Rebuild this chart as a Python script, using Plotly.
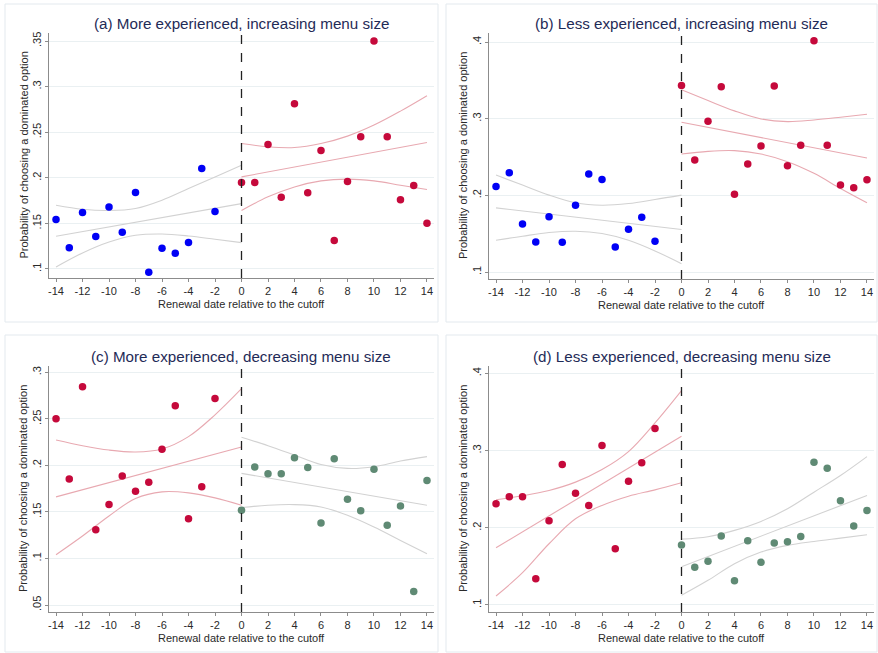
import plotly.graph_objects as go

# ---------------- data ----------------
x_pre = list(range(-14, -1))          # -14 ... -2
x_post = list(range(0, 15))           # 0 ... 14
x_fit_pre = [-14, -12, -10, -8, -6, -4, -2, 0]
x_fit_post = [0, 2, 4, 6, 8, 10, 12, 14]
x_line_pre = [-14, 0]
x_line_post = [0, 14]
x_ticks = [-14, -12, -10, -8, -6, -4, -2, 0, 2, 4, 6, 8, 10, 12, 14]
x_ticktext = ["-14", "-12", "-10", "-8", "-6", "-4", "-2", "0", "2", "4", "6", "8", "10", "12", "14"]

titles = ["(a) More experienced, increasing menu size",
          "(b) Less experienced, increasing menu size",
          "(c) More experienced, decreasing menu size",
          "(d) Less experienced, decreasing menu size"]
x_title = "Renewal date relative to the cutoff"
y_title = "Probability of choosing a dominated option"

# Panel (a)
a_pre = [0.1542, 0.1234, 0.1619, 0.1355, 0.1681, 0.1403, 0.1838, 0.0963, 0.1227, 0.1172, 0.1289, 0.2102, 0.1630]
a_post = [0.1948, 0.1948, 0.2365, 0.1787, 0.2812, 0.1835, 0.2299, 0.1311, 0.1959, 0.2449, 0.3500, 0.2449, 0.1758, 0.1915, 0.1501]
a_pre_fit = [0.1359, 0.1717]
a_pre_hi = [0.1699, 0.1655, 0.1641, 0.1663, 0.1754, 0.1882, 0.2010, 0.2138]
a_pre_lo = [0.1022, 0.1176, 0.1296, 0.1370, 0.1384, 0.1362, 0.1326, 0.1289]
a_post_fit = [0.2010, 0.2387]
a_post_hi = [0.2376, 0.2340, 0.2332, 0.2376, 0.2457, 0.2578, 0.2731, 0.2900]
a_post_lo = [0.1641, 0.1791, 0.1900, 0.1966, 0.1985, 0.1966, 0.1919, 0.1871]
a_yticks = [0.1, 0.15, 0.2, 0.25, 0.3, 0.35]
a_yticktext = [".1", ".15", ".2", ".25", ".3", ".35"]

# Panel (b)
b_pre = [0.2116, 0.2295, 0.1628, 0.1393, 0.1720, 0.1388, 0.1872, 0.2278, 0.2208, 0.1327, 0.1558, 0.1715, 0.1401]
b_post = [0.3433, 0.2461, 0.2967, 0.3416, 0.2016, 0.2409, 0.2644, 0.3425, 0.2387, 0.2653, 0.4018, 0.2653, 0.2134, 0.2099, 0.2204]
b_pre_fit = [0.1837, 0.1554]
b_pre_hi = [0.2265, 0.2134, 0.2003, 0.1903, 0.1872, 0.1894, 0.1946, 0.2003]
b_pre_lo = [0.1414, 0.1467, 0.1515, 0.1532, 0.1502, 0.1414, 0.1275, 0.1109]
b_post_fit = [0.2954, 0.2487]
b_post_hi = [0.3377, 0.3237, 0.3102, 0.2997, 0.2962, 0.2984, 0.3019, 0.3058]
b_post_lo = [0.2539, 0.2574, 0.2583, 0.2539, 0.2439, 0.2287, 0.2090, 0.1903]
b_yticks = [0.1, 0.2, 0.3, 0.4]
b_yticktext = [".1", ".2", ".3", ".4"]

# Panel (c)
c_pre = [0.2500, 0.1853, 0.2845, 0.1309, 0.1579, 0.1885, 0.1723, 0.1820, 0.2173, 0.2640, 0.1428, 0.1770, 0.2719]
c_post = [0.1518, 0.1982, 0.1910, 0.1910, 0.2083, 0.1978, 0.1381, 0.2072, 0.1637, 0.1514, 0.1960, 0.1356, 0.1565, 0.0644, 0.1838]
c_pre_fit = [0.1662, 0.2198]
c_pre_hi = [0.2273, 0.2212, 0.2165, 0.2144, 0.2176, 0.2309, 0.2543, 0.2824]
c_pre_lo = [0.1040, 0.1241, 0.1457, 0.1644, 0.1716, 0.1705, 0.1651, 0.1572]
c_post_fit = [0.1914, 0.1572]
c_post_hi = [0.2302, 0.2212, 0.2112, 0.2010, 0.1968, 0.1986, 0.2047, 0.2094]
c_post_lo = [0.1547, 0.1572, 0.1579, 0.1554, 0.1464, 0.1338, 0.1194, 0.1050]
c_yticks = [0.05, 0.1, 0.15, 0.2, 0.25, 0.3]
c_yticktext = [".05", ".1", ".15", ".2", ".25", ".3"]

# Panel (d)
d_pre = [0.2310, 0.2401, 0.2401, 0.1341, 0.2091, 0.2819, 0.2448, 0.2289, 0.3065, 0.1728, 0.2603, 0.2841, 0.3284]
d_post = [0.1776, 0.1487, 0.1565, 0.1892, 0.1315, 0.1832, 0.1552, 0.1802, 0.1819, 0.1888, 0.2849, 0.2772, 0.2349, 0.2022, 0.2224]
d_pre_fit = [0.1741, 0.3185]
d_pre_hi = [0.2362, 0.2414, 0.2483, 0.2591, 0.2754, 0.2987, 0.3358, 0.3776]
d_pre_lo = [0.1116, 0.1418, 0.1793, 0.2116, 0.2289, 0.2409, 0.2491, 0.2582]
d_post_fit = [0.1496, 0.2418]
d_post_hi = [0.1853, 0.1884, 0.1966, 0.2082, 0.2246, 0.2461, 0.2677, 0.2922]
d_post_lo = [0.1125, 0.1319, 0.1534, 0.1685, 0.1772, 0.1823, 0.1866, 0.1909]
d_yticks = [0.1, 0.2, 0.3, 0.4]
d_yticktext = [".1", ".2", ".3", ".4"]

# ---------------- styling ----------------
BLUE = "#0000f5"
RED = "#c5093b"
GREEN = "#5f8a74"
PINK_LINE = "#e8a9b1"
GRAY_LINE = "#d2d2d2"
TITLE_COLOR = "#1f2b57"
TEXT_COLOR = "#2a2a2a"
AXIS_COLOR = "#8c8c8c"
GRID_COLOR = "#eaf0f2"
FONT = "Liberation Sans, Arial, sans-serif"
W, H = 878, 653

panels = [
    dict(pre=a_pre, post=a_post, pre_fit=a_pre_fit, pre_hi=a_pre_hi, pre_lo=a_pre_lo,
         post_fit=a_post_fit, post_hi=a_post_hi, post_lo=a_post_lo,
         pre_col=BLUE, post_col=RED, pre_line=GRAY_LINE, post_line=PINK_LINE,
         yticks=a_yticks, ytext=a_yticktext, yrange=[0.0901, 0.3588],
         px=(49, 434), py=(33, 278)),
    dict(pre=b_pre, post=b_post, pre_fit=b_pre_fit, pre_hi=b_pre_hi, pre_lo=b_pre_lo,
         post_fit=b_post_fit, post_hi=b_post_hi, post_lo=b_post_lo,
         pre_col=BLUE, post_col=RED, pre_line=GRAY_LINE, post_line=PINK_LINE,
         yticks=b_yticks, ytext=b_yticktext, yrange=[0.0909, 0.4118],
         px=(489, 874), py=(33, 279)),
    dict(pre=c_pre, post=c_post, pre_fit=c_pre_fit, pre_hi=c_pre_hi, pre_lo=c_pre_lo,
         post_fit=c_post_fit, post_hi=c_post_hi, post_lo=c_post_lo,
         pre_col=RED, post_col=GREEN, pre_line=PINK_LINE, post_line=GRAY_LINE,
         yticks=c_yticks, ytext=c_yticktext, yrange=[0.0425, 0.3068],
         px=(49, 434), py=(366, 612)),
    dict(pre=d_pre, post=d_post, pre_fit=d_pre_fit, pre_hi=d_pre_hi, pre_lo=d_pre_lo,
         post_fit=d_post_fit, post_hi=d_post_hi, post_lo=d_post_lo,
         pre_col=RED, post_col=GREEN, pre_line=PINK_LINE, post_line=GRAY_LINE,
         yticks=d_yticks, ytext=d_yticktext, yrange=[0.0909, 0.4095],
         px=(489, 874), py=(366, 612)),
]

boxes = [(5, 4, 438, 322), (446, 4, 877, 322), (5, 335, 438, 652), (446, 335, 877, 652)]

fig = go.Figure()
layout = dict(width=W, height=H, margin=dict(l=0, r=0, t=0, b=0),
              paper_bgcolor="white", plot_bgcolor="white", showlegend=False,
              font=dict(family=FONT, size=11, color=TEXT_COLOR))
annotations = []
shapes = []

for i, p in enumerate(panels):
    n = "" if i == 0 else str(i + 1)
    xa, ya = "x" + n, "y" + n
    xdom = [p["px"][0] / W, p["px"][1] / W]
    ydom = [1 - p["py"][1] / H, 1 - p["py"][0] / H]

    def line(xs, ys, col, shape="spline"):
        fig.add_trace(go.Scatter(x=xs, y=ys, mode="lines", xaxis=xa, yaxis=ya,
                                 line=dict(color=col, width=1.1, shape=shape, smoothing=1.0),
                                 hoverinfo="skip"))

    line(x_fit_pre, p["pre_hi"], p["pre_line"])
    line(x_fit_pre, p["pre_lo"], p["pre_line"])
    line(x_line_pre, p["pre_fit"], p["pre_line"], "linear")
    line(x_fit_post, p["post_hi"], p["post_line"])
    line(x_fit_post, p["post_lo"], p["post_line"])
    line(x_line_post, p["post_fit"], p["post_line"], "linear")

    fig.add_trace(go.Scatter(x=x_pre, y=p["pre"], mode="markers", xaxis=xa, yaxis=ya,
                             marker=dict(color=p["pre_col"], size=7.5, line=dict(width=0))))
    fig.add_trace(go.Scatter(x=x_post, y=p["post"], mode="markers", xaxis=xa, yaxis=ya,
                             marker=dict(color=p["post_col"], size=7.5, line=dict(width=0))))

    layout["xaxis" + n] = dict(domain=xdom, anchor=ya, range=[-14.53, 14.53],
                               tickmode="array", tickvals=x_ticks, ticktext=x_ticktext,
                               showgrid=False, zeroline=False, showline=True,
                               linecolor=AXIS_COLOR, linewidth=1.2,
                               ticks="outside", ticklen=3, tickcolor=AXIS_COLOR,
                               tickfont=dict(size=11, color=TEXT_COLOR, family=FONT))
    layout["yaxis" + n] = dict(domain=ydom, anchor=xa, range=p["yrange"],
                               tickmode="array", tickvals=p["yticks"], ticktext=p["ytext"],
                               tickangle=-90, showgrid=True, gridcolor=GRID_COLOR, gridwidth=1,
                               zeroline=False, showline=True, linecolor=AXIS_COLOR, linewidth=1.2,
                               ticks="outside", ticklen=3, tickcolor=AXIS_COLOR,
                               tickfont=dict(size=11, color=TEXT_COLOR, family=FONT))

    # vertical dashed cutoff line
    shapes.append(dict(type="line", xref=xa, yref=ya + " domain", x0=0, x1=0, y0=0, y1=1,
                       line=dict(color="#222222", width=1.3, dash="dash")))

    xc = (xdom[0] + xdom[1]) / 2
    annotations.append(dict(text=titles[i], xref="paper", yref="paper", x=xc,
                            y=1 - (p["py"][0] - 9) / H, xanchor="center", yanchor="middle",
                            showarrow=False, font=dict(size=15.2, color=TITLE_COLOR, family=FONT)))
    annotations.append(dict(text=x_title, xref="paper", yref="paper", x=xc,
                            y=1 - (p["py"][1] + 26) / H, xanchor="center", yanchor="middle",
                            showarrow=False, font=dict(size=11, color=TEXT_COLOR, family=FONT)))
    annotations.append(dict(text=y_title, xref="paper", yref="paper",
                            x=(p["px"][0] - 26) / W, y=(ydom[0] + ydom[1]) / 2,
                            xanchor="center", yanchor="middle", textangle=-90,
                            showarrow=False, font=dict(size=11, color=TEXT_COLOR, family=FONT)))

for (x0, y0, x1, y1) in boxes:
    shapes.append(dict(type="rect", xref="paper", yref="paper",
                       x0=x0 / W, x1=x1 / W, y0=1 - y1 / H, y1=1 - y0 / H,
                       line=dict(color="#e3e9ee", width=1), fillcolor="rgba(0,0,0,0)", layer="below"))

layout["annotations"] = annotations
layout["shapes"] = shapes
fig.update_layout(**layout)
fig.write_html("out.html")
